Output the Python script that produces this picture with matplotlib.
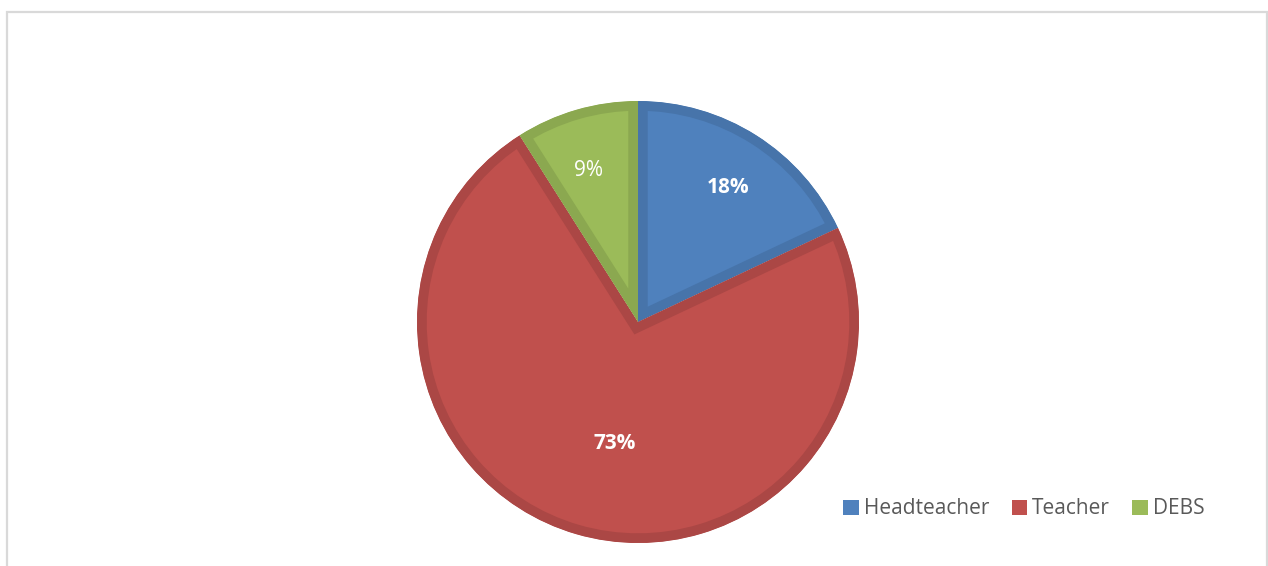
import numpy as np
import matplotlib
matplotlib.use("Agg")
import matplotlib.pyplot as plt
from matplotlib.patches import Rectangle

plt.rcParams["font.family"] = ["Open Sans", "DejaVu Sans"]

# data
roles = ["Headteacher", "Teacher", "DEBS"]
shares = [18, 73, 9]
fill_colors = ["#4F81BD", "#C0504D", "#9BBB59"]
edge_colors = ["#4774AA", "#AB4745", "#8BA850"]
label_weights = ["bold", "bold", "normal"]
label_dist = [0.734, 0.558, 0.724]
label_turn = [-1.3, 5.5, 2.0]  # small angular nudge of each percentage label

W, H = 1268, 566
fig = plt.figure(figsize=(W / 100, H / 100), dpi=100)

# light grey chart border (bottom runs off the page)
fig.patches.append(Rectangle((7 / W, -0.05), 1260 / W, (H - 12) / H + 0.05,
                             transform=fig.transFigure, fill=False,
                             edgecolor="#D9D9D9", linewidth=1.6))

cx, cy, r = 638, H - 322, 221
ax = fig.add_axes([(cx - r) / W, (cy - r) / H, 2 * r / W, 2 * r / H])

wedges, _ = ax.pie(shares, colors=fill_colors, startangle=90,
                   counterclock=False, radius=1,
                   wedgeprops=dict(linewidth=0))

# darker inset rim on each slice: stroke clipped to the slice itself
for w, ec in zip(wedges, edge_colors):
    w.set_edgecolor(ec)
    w.set_linewidth(14)
    w.set_clip_path(w)
    w.set_clip_on(True)

for w, val, wt, d, t in zip(wedges, shares, label_weights, label_dist, label_turn):
    ang = np.deg2rad((w.theta1 + w.theta2) / 2 + t)
    ax.text(d * np.cos(ang), d * np.sin(ang), f"{val}%", color="white",
            fontsize=15, fontweight=wt, ha="center", va="center")

ax.set_xlim(-1, 1)
ax.set_ylim(-1, 1)
ax.set_aspect("equal")
ax.axis("off")

handles = [Rectangle((0, 0), 1, 1, facecolor=c, edgecolor="none") for c in fill_colors]
fig.legend(handles, roles, loc="center left", bbox_to_anchor=(833 / W, (H - 509) / H),
           ncol=3, frameon=False, fontsize=15, labelcolor="#595959",
           handlelength=0.75, handleheight=0.75, handletextpad=0.25,
           columnspacing=1.05, borderpad=0)

fig.savefig("out.png", dpi=100)
